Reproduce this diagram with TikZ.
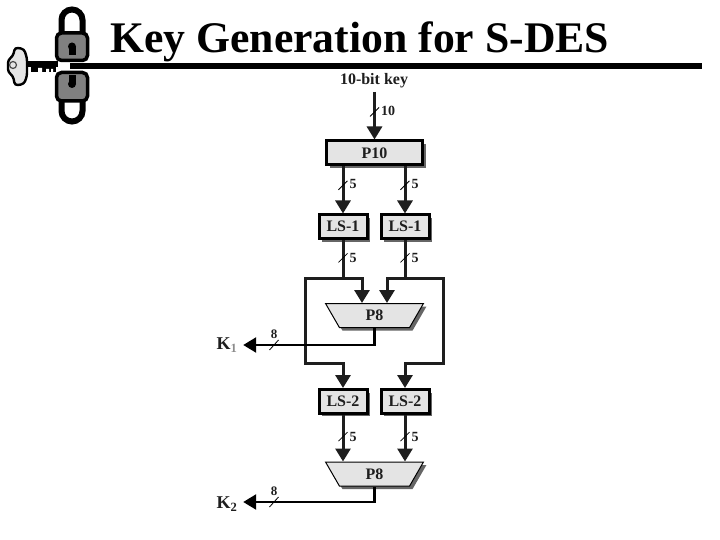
\documentclass[tikz,border=0pt]{standalone}
\usepackage{fontspec}
\setmainfont{Liberation Serif}
\usetikzlibrary{arrows.meta, positioning, shapes.geometric, shadows}
\definecolor{inkdark}{HTML}{1E1E1E}
\definecolor{boxfill}{HTML}{E4E4E4}
\begin{document}
\begin{tikzpicture}[
    x=1pt, y=-1pt,
    node distance=47pt,
    shade/.style={drop shadow={shadow xshift=3pt, shadow yshift=-3pt, fill=black!60, opacity=1}},
    pbox/.style={draw=black, line width=3pt, fill=boxfill, minimum width=96pt, minimum height=24pt,
                 inner sep=0pt, font=\bfseries\fontsize{16}{16}\selectfont, text=inkdark, shade},
    lsbox/.style={pbox, minimum width=48pt, minimum height=23.5pt},
    mux/.style={trapezium, shape border rotate=180, trapezium stretches=true, trapezium angle=72,
                draw=black, line width=1pt, fill=boxfill, minimum width=98pt, minimum height=24pt,
                inner sep=0pt, font=\bfseries\fontsize{16}{16}\selectfont, text=inkdark, shade},
    arrow/.style={-{Triangle[length=13pt, width=15pt]}, line width=3pt, draw=inkdark},
    wire/.style={line width=3pt, draw=inkdark, line join=miter},
    thinarrow/.style={-{Triangle[length=13pt, width=15pt]}, line width=2.4pt, draw=black},
    buslabel/.style={right=5pt, inner sep=0pt, font=\bfseries\fontsize{14}{14}\selectfont, text=inkdark},
    outlabel/.style={minimum width=32pt, inner sep=0pt, font=\bfseries\fontsize{18}{18}\selectfont, text=inkdark},
    bus/.pic={\draw[-, line width=.8pt, black] (-4.5pt,-4.5pt) -- (4.5pt,4.5pt);},
    buswest/.pic={\draw[-, line width=.8pt, black] (-4.5pt,-5pt) -- (4.5pt,5pt);},
]
\useasboundingbox (0,0) rectangle (720,540);

% Title and rule
\node[anchor=base west, inner sep=0pt, font=\bfseries\fontsize{43.7}{44}\selectfont, text=black] (title) at (110,53) {Key Generation for S-DES};
\fill[black] (70,63) rectangle (702,69);

% Upper lock
\draw[black, line width=6pt] (61.5,34) -- (61.5,20) arc[start angle=180, end angle=360, radius=10.5] -- (82.5,34);
\draw[black, fill=black!50, line width=3.5pt, rounded corners=5pt] (56.5,33) rectangle (87.5,60.5);
\fill[black] (72,46.5) circle (4pt);
\fill[black] (68.5,47) rectangle (75.5,55);

% Lower lock
\draw[black, line width=6pt] (61.5,100) -- (61.5,111) arc[start angle=180, end angle=0, radius=10.5] -- (82.5,100);
\draw[black, fill=black!50, line width=3.5pt, rounded corners=5pt] (56.5,72.5) rectangle (87.5,101);
\fill[black] (72,84) circle (4pt);
\fill[black] (68.5,75) rectangle (75.5,84);

% Key
\fill[black] (28,61) rectangle (58,67);
\fill[black] (31,67) rectangle (56,72);
\fill[white] (38,68) rectangle (42,72) (46,69) rectangle (49,72) (51,69) rectangle (53,72);
\draw[black, fill=black!10, line width=2.4pt, rounded corners=3pt] (15,47.5) -- (24,49) -- (27,58) -- (27,76) -- (24,84) -- (15,85.5) -- (13,76) -- (8,72) -- (8,60) -- (13,56) -- cycle;
\draw[black!70, line width=1.2pt] (13,65) circle (3.5pt);

% Blocks
\node[inner sep=0pt, font=\bfseries\fontsize{16}{16}\selectfont, text=inkdark] (key) at (374,81) {10-bit key};
\node[pbox] (p10) at (374.5,153) {P10};
\node[lsbox, below=47pt of p10, xshift=-31.5pt] (ls1l) {LS-1};
\node[lsbox, right=11pt of ls1l] (ls1r) {LS-1};
\node[mux, below=63pt of ls1l, xshift=31.5pt] (p8a) {P8};
\node[lsbox, below=148pt of ls1l] (ls2l) {LS-2};
\node[lsbox, right=11pt of ls2l] (ls2r) {LS-2};
\node[mux, below=of ls2l, xshift=31.5pt] (p8b) {P8};
\node[outlabel] (k1) at (227,345) {K\textsubscript{\textcolor{black!45}{1}}};
\node[outlabel] (k2) at (227,504) {K\textsubscript{2}};

% Bends between the two shift stages
\coordinate[below=38pt of ls1l] (topl);
\coordinate[below=38pt of ls1r] (topr);
\coordinate[right=19pt of topl] (inl);
\coordinate[left=18pt of topr] (inr);
\coordinate[left=38pt of topl] (sidel);
\coordinate[right=38pt of topr] (sider);
\coordinate[above=25pt of ls2l] (lowl);
\coordinate[above=25pt of ls2r] (lowr);
\coordinate (keyout) at (374.5,92);

% Connectors
\draw[arrow] (keyout) -- (keyout |- p10.north) pic[pos=.42] {bus} node[pos=.40, buslabel] (w0) {10};
\draw[arrow] (ls1l.north |- p10.south) -- (ls1l.north) pic[pos=.4] {bus} node[pos=.38, buslabel] (w1) {5};
\draw[arrow] (ls1r.north |- p10.south) -- (ls1r.north) pic[pos=.4] {bus} node[pos=.38, buslabel] (w2) {5};
\draw[wire] (ls1l.south) -- (topl) pic[pos=.47] {bus} node[pos=.47, buslabel] (w3) {5};
\draw[wire] (ls1r.south) -- (topr) pic[pos=.47] {bus} node[pos=.47, buslabel] (w4) {5};
\draw[arrow] (sidel |- lowl) -- (lowl) -- (ls2l.north);
\draw[arrow] (sider |- lowr) -- (lowr) -- (ls2r.north);
\draw[wire] (inl) -- (sidel) -- (sidel |- lowl) -- (lowl);
\draw[wire] (inr) -- (sider) -- (sider |- lowr) -- (lowr);
\draw[arrow] (topl) -- (inl) -- (inl |- p8a.north);
\draw[arrow] (topr) -- (inr) -- (inr |- p8a.north);
\draw[thinarrow] (p8a.south) |- (k1.east);
\draw[arrow] (ls2l.south) -- (ls2l.south |- p8b.north) pic[pos=.47] {bus} node[pos=.47, buslabel] (w5) {5};
\draw[arrow] (ls2r.south) -- (ls2r.south |- p8b.north) pic[pos=.47] {bus} node[pos=.47, buslabel] (w6) {5};
\draw[thinarrow] (p8b.south) |- (k2.east |- 0,502);

% Side annotations
\coordinate (cut1) at (274,345);
\coordinate (cut2) at (274,502);
\pic at (cut1) {buswest};
\pic at (cut2) {buswest};
\node[above=6pt of cut1, inner sep=0pt, font=\bfseries\fontsize{13}{13}\selectfont, text=inkdark] (w7) {8};
\node[above=6pt of cut2, inner sep=0pt, font=\bfseries\fontsize{13}{13}\selectfont, text=inkdark] (w8) {8};
\end{tikzpicture}
\end{document}
